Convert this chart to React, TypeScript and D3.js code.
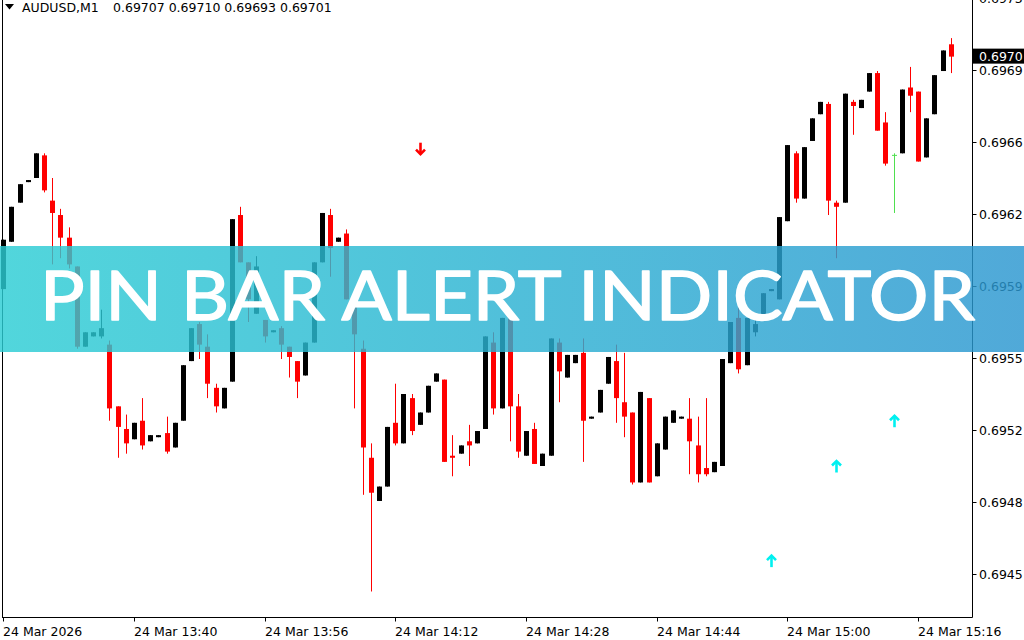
import React from "react";
import * as d3 from "d3";

const W = 1024;
const H = 640;

// AUDUSD M1 candles, 13:24 .. 15:20 (one per minute)
const opens = [
  0.69588, 0.69611, 0.6963, 0.6964, 0.69642, 0.69653, 0.69631, 0.69624, 0.69613, 0.69599,
  0.6956, 0.69565, 0.69565, 0.69561, 0.69531, 0.6952, 0.69515, 0.69524, 0.69514, 0.69516,
  0.69518, 0.69511, 0.69524, 0.69553, 0.69571, 0.6956, 0.6954, 0.6953, 0.69543, 0.69624,
  0.69601, 0.69576, 0.69573, 0.69567, 0.69569, 0.6956, 0.69553, 0.69546, 0.69562, 0.69601,
  0.69624, 0.69611, 0.69615, 0.69582, 0.69559, 0.69506, 0.69485, 0.69492, 0.69523, 0.69513,
  0.69535, 0.69522, 0.69528, 0.69543, 0.69544, 0.69507, 0.69508, 0.69514, 0.69513, 0.6952,
  0.69562, 0.6953, 0.69574, 0.69531, 0.69507, 0.6952, 0.69502, 0.69507, 0.69562, 0.69545,
  0.69552, 0.69557, 0.69525, 0.69528, 0.69542, 0.69553, 0.69533, 0.69528, 0.69494, 0.69535,
  0.69497, 0.6951, 0.69523, 0.69525, 0.69525, 0.69512, 0.69501, 0.69499, 0.69502, 0.69552,
  0.69574, 0.69551, 0.69567, 0.69573, 0.69587, 0.69583, 0.69621, 0.69654, 0.69632, 0.6966,
  0.69673, 0.69678, 0.6963, 0.6963, 0.69679, 0.69676, 0.69684, 0.69693, 0.69669, 0.69653,
  0.69654, 0.69686, 0.69684, 0.69652, 0.69673, 0.69694, 0.69707,
];
const highs = [
  0.69612, 0.69628, 0.69639, 0.69641, 0.69654, 0.69654, 0.69642, 0.69627, 0.69618, 0.69599,
  0.69567, 0.69567, 0.69578, 0.69563, 0.69531, 0.69527, 0.69523, 0.69535, 0.69517, 0.69517,
  0.69526, 0.69523, 0.69551, 0.69569, 0.69572, 0.69566, 0.69542, 0.6954, 0.69622, 0.69628,
  0.69601, 0.69604, 0.69573, 0.69568, 0.6957, 0.6956, 0.69553, 0.69562, 0.69601, 0.69625,
  0.69627, 0.69613, 0.69617, 0.69586, 0.69563, 0.69513, 0.69492, 0.69521, 0.69542, 0.69537,
  0.69537, 0.69528, 0.69541, 0.69547, 0.69544, 0.69517, 0.69512, 0.69522, 0.69519, 0.69565,
  0.69567, 0.69574, 0.69575, 0.69537, 0.69519, 0.69523, 0.69508, 0.69564, 0.69564, 0.69556,
  0.69556, 0.69564, 0.69526, 0.69539, 0.69555, 0.69561, 0.69557, 0.69528, 0.69538, 0.69535,
  0.69513, 0.69526, 0.69529, 0.69526, 0.69535, 0.69526, 0.69535, 0.69504, 0.69554, 0.69572,
  0.69579, 0.69574, 0.69573, 0.69586, 0.69588, 0.69623, 0.69658, 0.69655, 0.69657, 0.69671,
  0.69679, 0.69679, 0.69631, 0.69683, 0.6968, 0.6968, 0.69693, 0.69694, 0.69674, 0.69654,
  0.69685, 0.69696, 0.69684, 0.69671, 0.69692, 0.69704, 0.6971,
];
const lows = [
  0.69588, 0.69611, 0.6963, 0.6964, 0.69642, 0.69635, 0.696, 0.69603, 0.69598, 0.69559,
  0.6956, 0.69565, 0.69564, 0.69524, 0.69506, 0.69508, 0.69515, 0.6951, 0.69514, 0.69516,
  0.69508, 0.69511, 0.69524, 0.69553, 0.69554, 0.69535, 0.69528, 0.6953, 0.69543, 0.69601,
  0.69572, 0.69576, 0.69562, 0.69567, 0.69554, 0.69545, 0.69535, 0.69546, 0.69562, 0.69601,
  0.69594, 0.69611, 0.69583, 0.6953, 0.69488, 0.69441, 0.69485, 0.69492, 0.69512, 0.69513,
  0.69517, 0.69522, 0.69528, 0.69543, 0.69504, 0.69497, 0.69508, 0.69502, 0.69513, 0.6952,
  0.69527, 0.6953, 0.69514, 0.69506, 0.69507, 0.69503, 0.69502, 0.69507, 0.69533, 0.69545,
  0.69552, 0.69504, 0.69525, 0.69528, 0.69542, 0.69523, 0.69516, 0.69493, 0.69494, 0.69494,
  0.69497, 0.6951, 0.69523, 0.69525, 0.69498, 0.69494, 0.69497, 0.69499, 0.69502, 0.69552,
  0.69547, 0.69551, 0.69565, 0.69573, 0.69587, 0.69583, 0.69621, 0.6963, 0.69632, 0.6966,
  0.69673, 0.69624, 0.69603, 0.6963, 0.69663, 0.69676, 0.69684, 0.69665, 0.69648, 0.69625,
  0.69654, 0.69674, 0.6965, 0.69652, 0.69673, 0.69694, 0.69693,
];
const closes = [
  0.69612, 0.69628, 0.69639, 0.69641, 0.69654, 0.69636, 0.69625, 0.69613, 0.696, 0.6956,
  0.69567, 0.69567, 0.69569, 0.6953, 0.69521, 0.69513, 0.69523, 0.69512, 0.69517, 0.69517,
  0.69509, 0.69523, 0.69551, 0.69569, 0.69561, 0.69542, 0.69531, 0.6954, 0.69622, 0.69601,
  0.69583, 0.69599, 0.69565, 0.69568, 0.69561, 0.69555, 0.69543, 0.69562, 0.69601, 0.69625,
  0.69608, 0.69613, 0.69583, 0.69566, 0.69511, 0.69489, 0.69492, 0.69521, 0.69513, 0.69537,
  0.69519, 0.69528, 0.69541, 0.69547, 0.69504, 0.69506, 0.69512, 0.69512, 0.69519, 0.69565,
  0.6953, 0.69574, 0.69531, 0.69509, 0.69519, 0.69503, 0.69508, 0.69564, 0.69548, 0.69556,
  0.69556, 0.69524, 0.69526, 0.69539, 0.69555, 0.69535, 0.69526, 0.69494, 0.69538, 0.69494,
  0.69513, 0.69526, 0.69529, 0.69526, 0.69514, 0.69498, 0.69498, 0.69504, 0.69554, 0.69572,
  0.69549, 0.69574, 0.69571, 0.69586, 0.69588, 0.69623, 0.69658, 0.69632, 0.69657, 0.69671,
  0.69679, 0.69631, 0.69628, 0.69683, 0.69677, 0.6968, 0.69693, 0.69665, 0.69649, 0.69653,
  0.69685, 0.69682, 0.6965, 0.69671, 0.69692, 0.69704, 0.69701,
];

const symbol = "AUDUSD,M1";
const xTickBars = [0, 16, 32, 48, 64, 80, 96, 112];
const xTickLabels = [
  "24 Mar 2026", "24 Mar 13:40", "24 Mar 13:56", "24 Mar 14:12",
  "24 Mar 14:28", "24 Mar 14:44", "24 Mar 15:00", "24 Mar 15:16",
];
const yTickValues = [0.694495, 0.694845, 0.695195, 0.695545, 0.695895, 0.696245, 0.696595, 0.696945, 0.697295];
const yTickLabels = ["0.6945", "0.6948", "0.6952", "0.6955", "0.6959", "0.6962", "0.6966", "0.6969", "0.6973"];
const currentPriceLabel = "0.6970";

const upArrowBars = [94, 102, 109];
const upArrowPrices = [0.69456, 0.69502, 0.69524];
const downArrowBars = [51];
const downArrowPrices = [0.69656];

const bannerTitle = "PIN BAR ALERT INDICATOR";

const FONT = "'DejaVu Sans', Tahoma, sans-serif";

export default function App() {
  const n = opens.length;
  const x = d3.scaleLinear().domain([0, n - 1]).range([3.3, 950.7]);
  const y = d3.scaleLinear().domain([0.694495, 0.696945]).range([574, 70]);
  const bw = 5;
  const fmt5 = d3.format(".5f");
  const last = n - 1;

  const candles = d3.range(n).map((i) => {
    const o = opens[i], c = closes[i], h = highs[i], l = lows[i];
    const cx = Math.round(x(i)) + 0.5;
    const yTop = y(Math.max(o, c));
    const yBot = y(Math.min(o, c));
    const doji = o === c;
    const bull = c > o;
    const col = doji ? "#4fe04f" : bull ? "#000000" : "#ff0000";
    const bodyH = Math.max(yBot - yTop, 2);
    return (
      <g key={i}>
        <line x1={cx} x2={cx} y1={y(h)} y2={y(l)} stroke={col} strokeWidth={1} />
        {doji ? (
          <line x1={cx - bw / 2} x2={cx + bw / 2} y1={yTop} y2={yTop} stroke={col} strokeWidth={1} />
        ) : (
          <rect x={cx - bw / 2} y={yTop} width={bw} height={bodyH} fill={col} />
        )}
      </g>
    );
  });

  const arrowUp = (cx: number, cy: number, col: string, key: string) => (
    <g key={key} stroke={col} strokeWidth={2.6} fill="none" strokeLinecap="butt">
      <polyline points={`${cx - 4.5},${cy - 0.5} ${cx},${cy - 5} ${cx + 4.5},${cy - 0.5}`} />
      <line x1={cx} x2={cx} y1={cy - 5} y2={cy + 6.5} />
    </g>
  );
  const arrowDown = (cx: number, cy: number, col: string, key: string) => (
    <g key={key} stroke={col} strokeWidth={2.6} fill="none" strokeLinecap="butt">
      <polyline points={`${cx - 4.5},${cy + 0.5} ${cx},${cy + 5} ${cx + 4.5},${cy + 0.5}`} />
      <line x1={cx} x2={cx} y1={cy + 5} y2={cy - 6.5} />
    </g>
  );

  const axisX = 972.5;
  const bottomY = 617.5;

  return (
    <svg
      width={W}
      height={H}
      viewBox={`0 0 ${W} ${H}`}
      style={{ position: "absolute", left: 0, top: 0, background: "#ffffff" }}
      fontFamily={FONT}
    >
      <defs>
        <linearGradient id="bannerGrad" x1="0" x2="1" y1="0" y2="0">
          <stop offset="0%" stopColor="#2bcdd4" />
          <stop offset="100%" stopColor="#2a96d0" />
        </linearGradient>
      </defs>
      <rect x={0} y={0} width={W} height={H} fill="#ffffff" />

      {/* frame */}
      <line x1={2.5} x2={2.5} y1={0} y2={bottomY} stroke="#000" strokeWidth={1} />
      <line x1={2} x2={axisX} y1={bottomY} y2={bottomY} stroke="#000" strokeWidth={1} />
      <line x1={axisX} x2={axisX} y1={0} y2={bottomY} stroke="#000" strokeWidth={1} />

      {candles}

      {upArrowBars.map((b, k) => arrowUp(Math.round(x(b)) + 0.5, y(upArrowPrices[k]), "#00f0f0", "u" + k))}
      {downArrowBars.map((b, k) => arrowDown(Math.round(x(b)) + 0.5, y(downArrowPrices[k]), "#ff0000", "d" + k))}

      {/* y axis */}
      {yTickValues.map((v, k) => (
        <g key={"y" + k}>
          <line x1={axisX} x2={axisX + 4} y1={Math.round(y(v)) + 0.5} y2={Math.round(y(v)) + 0.5} stroke="#000" />
          <text x={979} y={y(v)} dy="0.36em" fontSize={12.5} fill="#000">
            {yTickLabels[k]}
          </text>
        </g>
      ))}
      <rect x={axisX + 0.5} y={y(closes[last]) - 8} width={W - axisX} height={15} fill="#000" />
      <text x={979} y={y(closes[last])} dy="0.36em" fontSize={12.5} fill="#fff">
        {currentPriceLabel}
      </text>

      {/* x axis */}
      {xTickBars.map((b, k) => (
        <g key={"x" + k}>
          <line x1={Math.round(x(b)) + 0.5} x2={Math.round(x(b)) + 0.5} y1={bottomY} y2={bottomY + 4} stroke="#000" />
          <text x={Math.round(x(b))} y={636} fontSize={12.5} fill="#000">
            {xTickLabels[k]}
          </text>
        </g>
      ))}

      {/* header */}
      <path d="M5,4 L14,4 L9.5,9.5 Z" fill="#000" />
      <text x={22} y={12} fontSize={12.5} fill="#000">
        {symbol}
      </text>
      <text x={113} y={12} fontSize={12.5} fill="#000">
        {[opens[last], highs[last], lows[last], closes[last]].map((v) => fmt5(v)).join(" ")}
      </text>

      {/* banner */}
      <rect x={0} y={246} width={W} height={106} fill="url(#bannerGrad)" fillOpacity={0.82} />
      <text
        x={40}
        y={320}
        fontFamily="Lato, 'Open Sans', sans-serif"
        fontSize={67}
        fill="#ffffff"
        stroke="#ffffff"
        strokeWidth={1.4}
        strokeLinejoin="round"
        textLength={935}
        lengthAdjust="spacingAndGlyphs"
      >
        {bannerTitle}
      </text>
    </svg>
  );
}
